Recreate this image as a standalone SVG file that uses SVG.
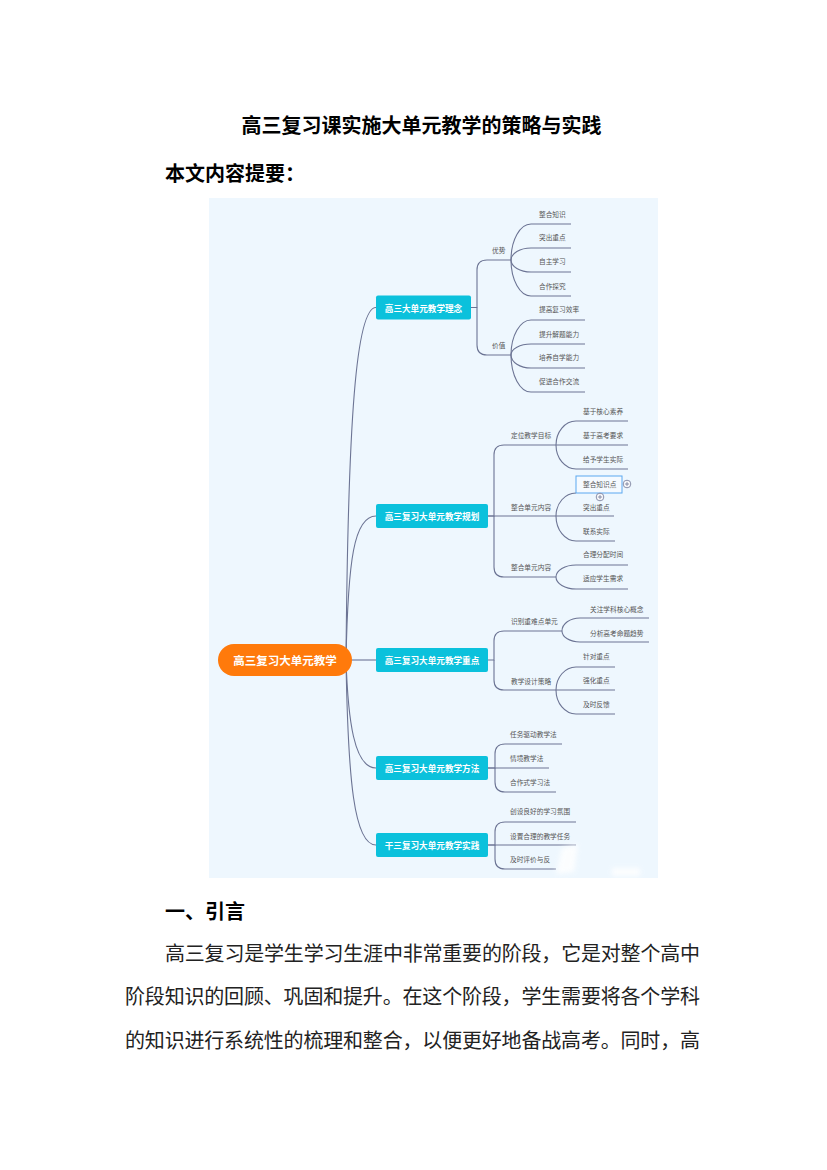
<svg xmlns="http://www.w3.org/2000/svg" width="827" height="1170" viewBox="0 0 827 1170">
<defs>
<style>
.h{font-family:"Noto Sans CJK SC","Noto Sans",sans-serif;font-weight:bold;font-size:20px;fill:#000}
.p{font-family:"Noto Sans CJK SC","Noto Sans",sans-serif;font-size:20px;fill:#222}
.lk{fill:none;stroke:#6C7494;stroke-width:1.1}
.n1{fill:#0BC1DC}
.t1{font-family:"Noto Sans CJK SC","Noto Sans",sans-serif;font-size:8.6px;font-weight:bold;fill:#fff;text-anchor:middle;dominant-baseline:central}
.t0{font-family:"Noto Sans CJK SC","Noto Sans",sans-serif;font-size:11.5px;font-weight:bold;fill:#fff;text-anchor:middle;dominant-baseline:central}
.lb{font-family:"Noto Sans CJK SC","Noto Sans",sans-serif;font-size:6.7px;fill:#555;dominant-baseline:central}
</style>
<filter id="blur" x="-50%" y="-50%" width="200%" height="200%"><feGaussianBlur stdDeviation="2.5"/></filter>
</defs>
<rect width="827" height="1170" fill="#fff"/>
<text class="h" x="421.5" y="132.5" text-anchor="middle">高三复习课实施大单元教学的策略与实践</text>
<text class="h" x="165" y="180.5">本文内容提要：</text>
<rect x="209" y="198" width="449" height="680" fill="#EEF7FE"/>
<g id="connectors" class="lk">
<path d="M346 660C348 420 356 307.5 376 307.5"/>
<path d="M346 660C348 560 354 516 376 516"/>
<path d="M352 660H376"/>
<path d="M346 660C348 720 354 768 376 768"/>
<path d="M346 660C348 780 354 845 376 845"/>
<path d="M471 307.5H477V270Q477 260 487 260H511"/>
<path d="M477 307.5V345Q477 355 487 355H511"/>
<path d="M511 260C511 240 520 224 531 224H571"/>
<path d="M511 260C511 253.4 520 248 531 248H571"/>
<path d="M511 260C511 266.6 520 272 531 272H571"/>
<path d="M511 260C511 279.9 520 296 531 296H571"/>
<path d="M511 355C511 335.7 520 320 531 320H585"/>
<path d="M511 355C511 348.9 520 344 531 344H585"/>
<path d="M511 355C511 362.2 520 368 531 368H585"/>
<path d="M511 355C511 375.4 520 392 531 392H585"/>
<path d="M488 516H494V455Q494 445 504 445H556"/>
<path d="M488 516H556"/>
<path d="M494 516V567Q494 577 504 577H556"/>
<path d="M556 445C556 431.8 565 421 576 421H628"/>
<path d="M556 445H628"/>
<path d="M556 445C556 458.2 565 469 576 469H628"/>
<path d="M556 516C556 503.3 565 493 576 493"/>
<path d="M556 516H614"/>
<path d="M556 516C556 529.8 565 541 576 541H615"/>
<path d="M556 577C556 570.4 565 565 576 565H628"/>
<path d="M556 577C556 583.6 565 589 576 589H628"/>
<path d="M488 660H494V641Q494 631 504 631H562"/>
<path d="M494 660V680Q494 690 504 690H556"/>
<path d="M562 631C562 623.8 570 618 580 618H649"/>
<path d="M562 631C562 637.1 570 642 580 642H649"/>
<path d="M556 690C556 677.3 565 667 576 667H615"/>
<path d="M556 690H615"/>
<path d="M556 690C556 703.2 565 714 576 714H615"/>
<path d="M488 768H495V754Q495 744 505 744H562"/>
<path d="M488 768H549"/>
<path d="M495 768V782Q495 792 505 792H556"/>
<path d="M488 845H495V832Q495 822 505 822H576"/>
<path d="M488 845H576"/>
<path d="M495 845V859Q495 869 505 869H556"/>
</g>
<g id="root"><rect x="218" y="644" width="134" height="32" rx="16" fill="#FF7A0B"/><text class="t0" x="285" y="660">高三复习大单元教学</text></g>
<g id="n-linian"><rect class="n1" x="376" y="295.5" width="95" height="24" rx="2"/><text class="t1" x="423.5" y="307.5">高三大单元教学理念</text></g>
<g id="n-guihua"><rect class="n1" x="376" y="504" width="112" height="24" rx="2"/><text class="t1" x="432" y="516">高三复习大单元教学规划</text></g>
<g id="n-zhongdian"><rect class="n1" x="376" y="648" width="112" height="24" rx="2"/><text class="t1" x="432" y="660">高三复习大单元教学重点</text></g>
<g id="n-fangfa"><rect class="n1" x="376" y="756" width="112" height="24" rx="2"/><text class="t1" x="432" y="768">高三复习大单元教学方法</text></g>
<g id="n-shijian"><rect class="n1" x="376" y="833" width="112" height="24" rx="2"/><text class="t1" x="432" y="845">干三复习大单元教学实践</text></g>
<g id="labels">
<g id="l-youshi"><text class="lb" x="492" y="250">优势</text></g>
<g id="l-jiazhi"><text class="lb" x="492" y="345">价值</text></g>
<g id="l1"><text class="lb" x="539" y="214">整合知识</text></g>
<g id="l2"><text class="lb" x="539" y="237">突出重点</text></g>
<g id="l3"><text class="lb" x="539" y="261">自主学习</text></g>
<g id="l4"><text class="lb" x="539" y="286">合作探究</text></g>
<g id="l5"><text class="lb" x="539" y="309">提高复习效率</text></g>
<g id="l6"><text class="lb" x="539" y="334">提升解题能力</text></g>
<g id="l7"><text class="lb" x="539" y="357">培养自学能力</text></g>
<g id="l8"><text class="lb" x="539" y="381">促进合作交流</text></g>
<g id="l-dingwei"><text class="lb" x="511" y="435">定位教学目标</text></g>
<g id="l-zhenghe1"><text class="lb" x="511" y="507">整合单元内容</text></g>
<g id="l-zhenghe2"><text class="lb" x="511" y="567">整合单元内容</text></g>
<g id="l9"><text class="lb" x="583" y="411">基于核心素养</text></g>
<g id="l10"><text class="lb" x="583" y="435">基于高考要求</text></g>
<g id="l11"><text class="lb" x="583" y="459">给予学生实际</text></g>
<g id="l12"><rect x="576" y="476" width="46" height="17" fill="#F5FAFF" stroke="#5AA8F0" stroke-width="1"/><text class="lb" x="583" y="484">整合知识点</text>
<circle cx="627" cy="484" r="3.8" fill="#fff" stroke="#6C7494" stroke-width="0.8"/><path d="M624.8 484H629.2M627 481.8V486.2" stroke="#6C7494" stroke-width="0.8"/>
<circle cx="600" cy="497" r="3.8" fill="#fff" stroke="#6C7494" stroke-width="0.8"/><path d="M597.8 497H602.2M600 494.8V499.2" stroke="#6C7494" stroke-width="0.8"/></g>
<g id="l13"><text class="lb" x="583" y="507">突出重点</text></g>
<g id="l14"><text class="lb" x="583" y="531">联系实际</text></g>
<g id="l15"><text class="lb" x="583" y="554">合理分配时间</text></g>
<g id="l16"><text class="lb" x="583" y="578">适应学生需求</text></g>
<g id="l-shibie"><text class="lb" x="511" y="621">识别重难点单元</text></g>
<g id="l-sheji"><text class="lb" x="511" y="681">教学设计策略</text></g>
<g id="l17"><text class="lb" x="590" y="609">关注学科核心概念</text></g>
<g id="l18"><text class="lb" x="590" y="633">分析高考命题趋势</text></g>
<g id="l19"><text class="lb" x="583" y="656">针对重点</text></g>
<g id="l20"><text class="lb" x="583" y="680">强化重点</text></g>
<g id="l21"><text class="lb" x="583" y="704">及时反馈</text></g>
<g id="l22"><text class="lb" x="510" y="734">任务驱动教学法</text></g>
<g id="l23"><text class="lb" x="510" y="758">情境教学法</text></g>
<g id="l24"><text class="lb" x="510" y="782">合作式学习法</text></g>
<g id="l25"><text class="lb" x="510" y="811">创设良好的学习氛围</text></g>
<g id="l26"><text class="lb" x="510" y="836">设置合理的教学任务</text></g>
<g id="l27"><text class="lb" x="510" y="859">及时评价与反</text></g>
</g>
<g filter="url(#blur)" opacity="0.85">
<path d="M562 848L578 844L574 872L556 874Z" fill="#fff"/>
<rect x="612" y="868" width="28" height="8" fill="#fff"/>
</g>
<text class="h" x="165" y="918.5">一、引言</text>
<text class="p" x="165" y="960.5" textLength="535" lengthAdjust="spacing">高三复习是学生学习生涯中非常重要的阶段，它是对整个高中</text>
<text class="p" x="125" y="1003.5" textLength="575" lengthAdjust="spacing">阶段知识的回顾、巩固和提升。在这个阶段，学生需要将各个学科</text>
<text class="p" x="125" y="1047.5" textLength="575" lengthAdjust="spacing">的知识进行系统性的梳理和整合，以便更好地备战高考。同时，高</text>
</svg>
